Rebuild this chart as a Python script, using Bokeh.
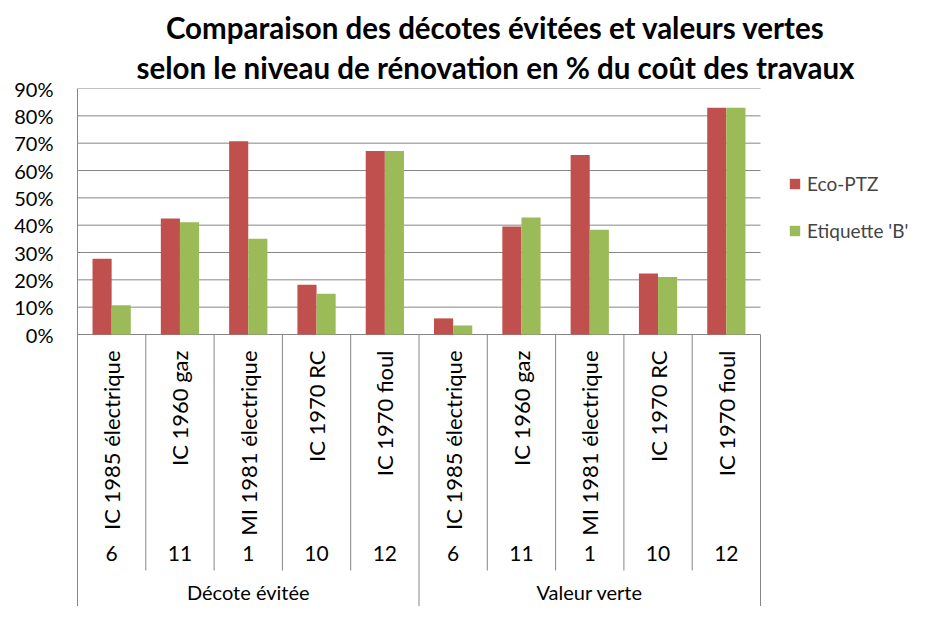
from math import pi
from bokeh.plotting import figure
from bokeh.models import (ColumnDataSource, FixedTicker, NumeralTickFormatter,
                          Legend, LegendItem, Title, Range1d)
from bokeh.core.properties import value
from bokeh.embed import file_html
from bokeh.resources import INLINE

# ---- data ----
groups = ["Décote évitée"] * 5 + ["Valeur verte"] * 5
buildings = ["IC 1985 électrique", "IC 1960 gaz", "MI 1981 électrique", "IC 1970 RC", "IC 1970 fioul",
             "IC 1985 électrique", "IC 1960 gaz", "MI 1981 électrique", "IC 1970 RC", "IC 1970 fioul"]
numbers = ["6", "11", "1", "10", "12", "6", "11", "1", "10", "12"]
eco_ptz = [0.277, 0.424, 0.707, 0.182, 0.671, 0.059, 0.395, 0.657, 0.223, 0.830]
etiquette_b = [0.107, 0.411, 0.350, 0.149, 0.671, 0.033, 0.428, 0.383, 0.210, 0.830]
y_ticks = [0.0, 0.1, 0.2, 0.3, 0.4, 0.5, 0.6, 0.7, 0.8, 0.9]
title_lines = ["Comparaison des décotes évitées et valeurs vertes",
               "selon le niveau de rénovation en % du coût des travaux"]
series_names = ["Eco-PTZ", "Etiquette 'B'"]

RED = "#C0504D"
GREEN = "#9BBB59"
GRID = "#868686"
FONT = "Lato"

n = len(buildings)
xc = [i + 0.5 for i in range(n)]                      # category centres
last_in_group = [i == n - 1 or groups[i] != groups[i + 1] for i in range(n)]
uniq_groups = list(dict.fromkeys(groups))
group_x = [sum(x for x, g in zip(xc, groups) if g == u) / groups.count(u) for u in uniq_groups]

bw = 0.28
src = ColumnDataSource(dict(xr=[x - bw / 2 for x in xc], xg=[x + bw / 2 for x in xc], x=xc,
                            eco=eco_ptz, etq=etiquette_b, name=buildings, num=numbers))

# layout (pixels)
W, H = 913, 606
left, top = 77, 88
plot_right = 760           # right end of the category area
plot_px = 246.0            # pixels between 0% and 90%
ymax = 0.9
ymin = ymax - (H - top) * ymax / plot_px
xmax = n * (W - left) / (plot_right - left)
def px(d):                 # pixels below the 0% line -> data units
    return -d * ymax / plot_px

p = figure(width=W, height=H, output_backend="svg", toolbar_location=None,
           x_range=Range1d(0, xmax), y_range=Range1d(ymin, ymax), x_axis_location=None,
           min_border_left=left, min_border_right=0, min_border_top=top, min_border_bottom=0)
p.outline_line_color = None
p.background_fill_color = "white"
p.border_fill_color = "white"
p.xgrid.visible = False
p.ygrid.visible = False

p.yaxis.ticker = FixedTicker(ticks=y_ticks)
p.yaxis.formatter = NumeralTickFormatter(format="0%")
p.yaxis.axis_line_color = GRID
p.yaxis.major_tick_line_color = None
p.yaxis.major_tick_out = 0
p.yaxis.minor_tick_line_color = None
p.yaxis.major_label_text_font = FONT
p.yaxis.major_label_text_font_size = "20px"
p.yaxis.major_label_text_color = "black"
p.yaxis.major_label_standoff = 24

# gridlines over the category area only
p.segment(x0=0, x1=n, y0=y_ticks, y1=y_ticks, line_color=GRID, line_width=1)

r1 = p.vbar(x="xr", top="eco", bottom=0, width=bw, source=src, fill_color=RED, line_color=None)
r2 = p.vbar(x="xg", top="etq", bottom=0, width=bw, source=src, fill_color=GREEN, line_color=None)

# category table below the axis
src_div = ColumnDataSource(dict(x=[x + 0.5 for x in xc],
                                y1=[px(236) if not l else ymin for l in last_in_group]))
p.segment(x0="x", y0=0, x1="x", y1="y1", source=src_div, line_color=GRID, line_width=1)

p.text(x="x", y=px(16), text="name", source=src, angle=pi / 2, text_align="right",
       text_baseline="middle", text_font=value(FONT), text_font_size="22px", text_color="black")
p.text(x="x", y=px(219), text="num", source=src, text_align="center", text_baseline="middle",
       text_font=value(FONT), text_font_size="21px", text_color="black")
p.text(x=group_x, y=[px(257)] * len(uniq_groups), text=uniq_groups, text_align="center",
       text_baseline="alphabetic", text_font=value(FONT), text_font_size="20px", text_color="black")

# title (first added sits closest to the plot)
p.add_layout(Title(text=title_lines[1], align="center", offset=-15, text_font=FONT,
                   text_font_style="bold", text_font_size="29.5px", text_color="black",
                   standoff=7), "above")
p.add_layout(Title(text=title_lines[0], align="center", offset=-15, text_font=FONT,
                   text_font_style="bold", text_font_size="29.5px", text_color="black",
                   standoff=0), "above")

legend = Legend(items=[LegendItem(label=series_names[0], renderers=[r1]),
                       LegendItem(label=series_names[1], renderers=[r2])],
                location=(711, 364), orientation="vertical",
                background_fill_alpha=0, border_line_color=None, padding=0, margin=0,
                glyph_width=13, glyph_height=13, label_height=22, spacing=24,
                label_text_font=FONT, label_text_font_size="19px", label_standoff=6)
p.add_layout(legend, "center")

open("out.html", "w").write(file_html(p, INLINE))
